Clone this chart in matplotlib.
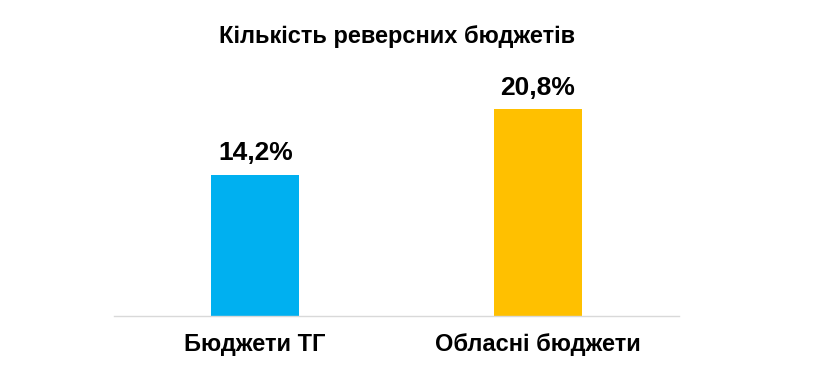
import matplotlib
matplotlib.use("Agg")
import matplotlib.pyplot as plt

categories = ["Бюджети ТГ", "Обласні бюджети"]
values = [14.2, 20.8]
colors = ["#00B0F0", "#FFC000"]
title = "Кількість реверсних бюджетів"

plt.rcParams['font.family'] = ['Liberation Sans', 'DejaVu Sans']

W, H = 835, 382
fig = plt.figure(figsize=(W/100, H/100), dpi=100)
ymax = 25
px_per_unit = 9.94
ax_h = ymax * px_per_unit
ax = fig.add_axes([114/W, (H-316)/H, 565/W, ax_h/H])
x = list(range(len(categories)))
ax.bar(x, values, width=0.312, color=colors)
ax.set_xlim(-0.5, 1.5)
ax.set_ylim(0, ymax)
for s in ["top", "right", "left"]:
    ax.spines[s].set_visible(False)
ax.spines["bottom"].set_color("#D9D9D9")
ax.spines["bottom"].set_linewidth(1)
ax.set_yticks([])
ax.set_xticks(x)
ax.set_xticklabels(categories, fontsize=17, fontweight="bold")
ax.tick_params(axis="x", length=0, pad=12)
for xi, v in zip(x, values):
    ax.annotate(f"{v:.1f}%".replace(".", ","), (xi, v), xytext=(0, 7),
                textcoords="offset points", ha="center", va="bottom",
                fontsize=19, fontweight="bold")
fig.text(397/W, 1 - 36/H, title, ha="center", va="center", fontsize=17, fontweight="bold")
fig.savefig("out.png", dpi=100)
